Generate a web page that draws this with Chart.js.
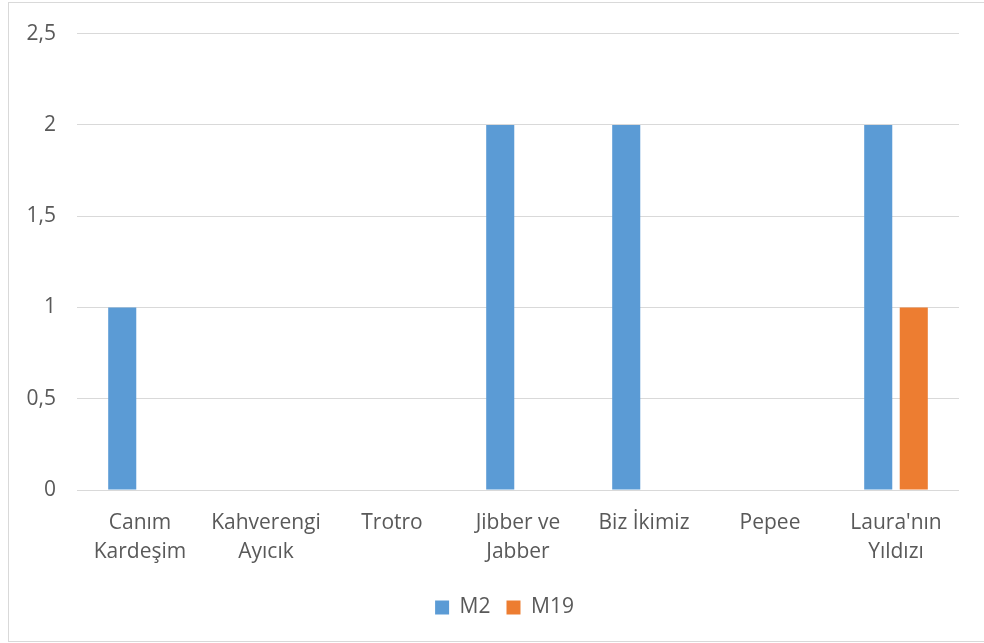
<!DOCTYPE html>
<html>
<head>
<meta charset="utf-8">
<script src="https://cdn.jsdelivr.net/npm/chart.js@4"></script>
<style>
  html, body { margin: 0; padding: 0; background: #fff; }
  canvas { display: block; }
</style>
</head>
<body>
<canvas id="chart" width="984" height="643"></canvas>
<script>
const categories = [
  ['Canım', 'Kardeşim'],
  ['Kahverengi', 'Ayıcık'],
  'Trotro',
  ['Jibber ve', 'Jabber'],
  'Biz İkimiz',
  'Pepee',
  ["Laura'nın", 'Yıldızı'],
];
const m2Values = [1, 0, 0, 2, 2, 0, 2];
const m19Values = [0, 0, 0, 0, 0, 0, 1];
const yTicks = [0, 0.5, 1, 1.5, 2, 2.5];

const textColor = '#595959';
const gridColor = '#d9d9d9';
const fontFamily = '"Open Sans", sans-serif';

// outer frame like the office chart box, and legend centred on that frame
const framePlugin = {
  id: 'frame',
  afterLayout(chart) {
    chart.legend.left += 25;
    chart.legend.right += 25;
  },
  beforeDraw(chart) {
    const { ctx } = chart;
    ctx.save();
    ctx.strokeStyle = gridColor;
    ctx.lineWidth = 1;
    ctx.strokeRect(8.5, 2.5, 1000, 639);
    ctx.restore();
  },
};

Chart.defaults.font.family = fontFamily;
Chart.defaults.color = textColor;

// eslint-disable-next-line no-new
new Chart(document.getElementById('chart').getContext('2d'), {
  type: 'bar',
  data: {
    labels: categories,
    datasets: [
      {
        label: 'M2',
        data: m2Values,
        backgroundColor: '#5b9bd5',
        categoryPercentage: 0.564,
        barPercentage: 0.79,
      },
      {
        label: 'M19',
        data: m19Values,
        backgroundColor: '#ed7d31',
        categoryPercentage: 0.564,
        barPercentage: 0.79,
      },
    ],
  },
  plugins: [framePlugin],
  options: {
    responsive: false,
    animation: false,
    devicePixelRatio: 1,
    layout: {
      padding: { left: 0, top: 32, right: 25, bottom: 15 },
    },
    plugins: {
      tooltip: { enabled: false },
      legend: {
        display: true,
        position: 'bottom',
        labels: {
          boxWidth: 14,
          boxHeight: 14,
          padding: 16,
          font: { size: 21 },
          color: textColor,
        },
      },
    },
    scales: {
      x: {
        grid: { display: false, drawTicks: false },
        border: { display: false },
        ticks: {
          padding: 18,
          maxRotation: 0,
          autoSkip: false,
          font: { size: 21, lineHeight: 1.4 },
          color: textColor,
        },
        afterFit(scale) { scale.height = 91; },
      },
      y: {
        min: 0,
        max: 2.5,
        afterBuildTicks(scale) { scale.ticks = yTicks.map((v) => ({ value: v })); },
        grid: { color: gridColor, drawTicks: false, lineWidth: 1 },
        border: { display: false },
        ticks: {
          padding: 21,
          font: { size: 21 },
          color: textColor,
          callback: (v) => String(v).replace('.', ','),
        },
        afterFit(scale) { scale.width = 77; },
      },
    },
  },
});
</script>
</body>
</html>
